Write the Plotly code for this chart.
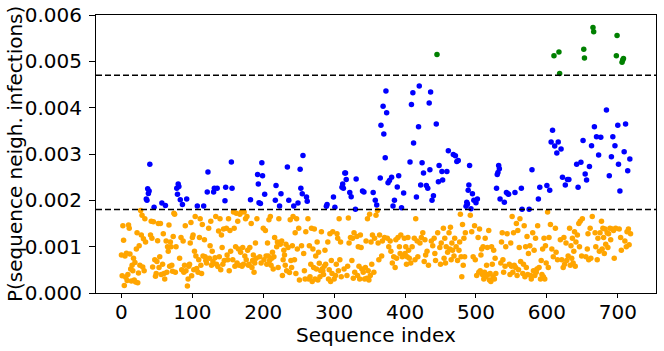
import plotly.graph_objects as go

# Base probabilities (units of 1e-5), one value per sequence index 0..718
base_e5 = [
    82, 37, 145, 114, 16, 80, 34, 86, 27, 40, 147, 140, 84, 52, 26, 60, 48, 75, 28, 66,
    24, 95, 130, 22, 43, 102, 60, 178, 125, 168, 56, 117, 48, 160, 110, 70, 150, 75, 55, 120,
    48, 125, 155, 118, 56, 154, 60, 72, 36, 42, 68, 113, 150, 55, 78, 150, 40, 100, 62, 128,
    42, 30, 110, 112, 45, 100, 90, 147, 58, 110, 100, 60, 47, 122, 172, 170, 45, 100, 55, 160,
    48, 128, 75, 58, 120, 50, 115, 112, 45, 60, 145, 48, 126, 15, 30, 58, 62, 108, 152, 37,
    120, 125, 50, 90, 165, 80, 53, 118, 45, 72, 120, 160, 60, 42, 148, 80, 100, 115, 78, 70,
    65, 75, 168, 140, 75, 102, 155, 60, 90, 68, 112, 160, 76, 165, 62, 140, 57, 134, 78, 160,
    50, 125, 98, 62, 138, 70, 160, 55, 140, 82, 72, 160, 48, 135, 90, 62, 150, 72, 175, 140,
    58, 100, 172, 65, 155, 95, 60, 170, 88, 175, 58, 98, 62, 175, 80, 160, 72, 165, 92, 60,
    62, 98, 75, 150, 55, 70, 82, 45, 65, 108, 75, 160, 72, 135, 60, 78, 118, 65, 108, 70,
    140, 72, 58, 135, 80, 62, 108, 80, 158, 70, 165, 60, 75, 88, 52, 78, 120, 62, 45, 100,
    110, 55, 160, 40, 105, 65, 112, 38, 72, 92, 82, 60, 105, 48, 110, 98, 85, 44, 158, 70,
    55, 102, 165, 28, 72, 130, 42, 160, 95, 58, 140, 28, 75, 120, 102, 178, 60, 85, 48, 30,
    132, 52, 75, 160, 30, 102, 35, 62, 140, 25, 95, 55, 138, 30, 80, 52, 110, 28, 88, 64,
    35, 48, 132, 52, 48, 40, 58, 92, 62, 25, 52, 110, 30, 50, 128, 25, 70, 42, 132, 55,
    30, 155, 38, 62, 128, 118, 48, 160, 72, 110, 35, 102, 45, 132, 52, 40, 145, 118, 38, 58,
    162, 108, 42, 120, 55, 70, 118, 32, 130, 45, 105, 60, 122, 38, 100, 58, 30, 125, 98, 52,
    120, 45, 100, 30, 55, 112, 32, 160, 48, 28, 170, 38, 110, 62, 125, 72, 45, 118, 55, 168,
    60, 178, 108, 72, 125, 50, 155, 80, 112, 70, 98, 120, 60, 160, 85, 118, 75, 100, 55, 112,
    90, 128, 65, 105, 78, 170, 55, 115, 75, 90, 120, 68, 100, 85, 125, 62, 78, 80, 65, 118,
    85, 100, 62, 78, 120, 92, 75, 152, 65, 178, 100, 130, 88, 118, 72, 160, 100, 112, 78, 125,
    88, 108, 75, 120, 95, 130, 155, 68, 115, 82, 125, 90, 158, 60, 140, 95, 78, 112, 85, 102,
    58, 118, 85, 70, 125, 92, 130, 60, 140, 98, 62, 108, 120, 85, 140, 75, 118, 65, 100, 112,
    88, 102, 130, 95, 142, 72, 108, 92, 120, 80, 118, 85, 100, 155, 70, 128, 92, 110, 170, 78,
    35, 148, 60, 118, 78, 130, 90, 135, 102, 58, 125, 142, 168, 62, 132, 108, 78, 138, 145, 72,
    160, 38, 100, 120, 45, 138, 48, 82, 95, 40, 100, 30, 45, 118, 35, 60, 98, 40, 135, 28,
    42, 25, 100, 62, 35, 92, 30, 75, 42, 105, 115, 170, 55, 145, 120, 65, 110, 130, 72, 45,
    140, 58, 100, 50, 128, 75, 145, 62, 40, 108, 58, 165, 45, 130, 60, 92, 55, 150, 38, 135,
    50, 98, 160, 68, 30, 128, 42, 62, 145, 35, 100, 55, 122, 40, 85, 50, 102, 38, 30, 68,
    130, 48, 92, 38, 118, 45, 52, 145, 35, 55, 100, 30, 70, 40, 95, 35, 118, 30, 102, 65,
    100, 175, 55, 120, 88, 148, 70, 95, 128, 78, 105, 60, 140, 88, 110, 72, 95, 130, 82, 115,
    148, 72, 100, 55, 120, 62, 88, 108, 70, 125, 80, 95, 140, 60, 102, 75, 118, 65, 90, 132,
    58, 110, 85, 125, 65, 150, 100, 155, 120, 80, 160, 75, 135, 105, 118, 78, 165, 95, 128, 72,
    100, 140, 75, 120, 165, 88, 150, 75, 130, 100, 145, 72, 118, 165, 90, 130, 80, 155, 95, 140,
    120, 85, 138, 105, 72, 130, 98, 128, 80, 140, 115, 92, 138, 108, 135, 75, 125, 140, 92, 130,
    95, 115, 138, 82, 120, 92, 140, 105, 80, 128, 112, 145, 100, 132, 78, 138, 104, 122, 128,
]

# Sequences with elevated probability (index, value in units of 1e-5)
hi_index = [
    35, 36, 37, 38, 39, 40, 46, 57, 62, 78, 79, 80, 81, 83, 86, 92, 107, 116, 121, 122,
    130, 131, 135, 146, 147, 155, 156, 182, 192, 193, 194, 196, 198, 199, 202, 217, 218, 223, 225, 234,
    236, 243, 249, 252, 253, 255, 256, 261, 262, 289, 290, 299, 301, 311, 312, 313, 315, 316, 317, 322,
    324, 330, 331, 340, 342, 355, 358, 360, 365, 366, 369, 370, 372, 373, 374, 376, 378, 381, 383, 385,
    389, 391, 395, 398, 407, 409, 411, 412, 416, 419, 420, 422, 424, 426, 430, 432, 434, 435, 436, 438,
    440, 444, 445, 447, 448, 452, 453, 459, 461, 468, 471, 473, 475, 486, 487, 488, 489, 490, 491, 493,
    495, 497, 500, 502, 529, 530, 531, 532, 533, 534, 540, 543, 545, 546, 555, 564, 565, 575, 579, 588,
    590, 600, 604, 606, 608, 610, 611, 614, 616, 617, 618, 620, 622, 626, 629, 631, 642, 644, 648, 651,
    652, 653, 654, 656, 660, 663, 665, 666, 667, 670, 673, 676, 684, 688, 691, 693, 696, 698, 699, 700,
    701, 703, 706, 707, 708, 709, 711, 714, 717,
]
hi_value_e5 = [
    203, 200, 225, 215, 220, 278, 185, 194, 189, 226, 213, 235, 230, 201, 191, 203, 188, 188, 218, 261,
    218, 226, 226, 199, 228, 283, 226, 201, 256, 235, 195, 193, 281, 253, 213, 200, 232, 188, 214, 272,
    200, 188, 194, 267, 226, 214, 297, 207, 198, 187, 191, 207, 185, 228, 235, 226, 259, 259, 245, 217,
    208, 181, 246, 220, 218, 217, 200, 190, 248, 362, 403, 343, 292, 436, 389, 238, 243, 250, 188, 200,
    229, 253, 184, 216, 283, 407, 432, 324, 207, 359, 447, 233, 281, 259, 232, 226, 410, 266, 434, 200,
    210, 365, 515, 240, 275, 262, 244, 262, 307, 299, 296, 284, 286, 187, 196, 192, 222, 233, 275, 182,
    214, 200, 195, 203, 226, 256, 260, 275, 268, 203, 196, 217, 214, 213, 217, 226, 181, 181, 266, 203,
    228, 232, 222, 326, 351, 512, 317, 302, 326, 520, 474, 311, 250, 233, 245, 245, 278, 228, 282, 329,
    526, 507, 257, 244, 273, 318, 573, 564, 359, 337, 298, 336, 395, 253, 294, 337, 318, 512, 556, 362,
    278, 220, 498, 503, 506, 305, 365, 264, 289,
]

low_threshold = 0.0018
high_threshold = 0.0047

x_ticks = [0, 100, 200, 300, 400, 500, 600, 700]
y_ticks = [0.000, 0.001, 0.002, 0.003, 0.004, 0.005, 0.006]

assert len(base_e5) == 719, len(base_e5)
assert len(hi_index) == len(hi_value_e5), (len(hi_index), len(hi_value_e5))

prob = [v * 1e-5 for v in base_e5]
for i, v in zip(hi_index, hi_value_e5):
    prob[i] = v * 1e-5
seq_index = list(range(len(prob)))

groups = {"orange": [], "blue": [], "green": []}
for i, p in zip(seq_index, prob):
    if p > high_threshold:
        groups["green"].append((i, p))
    elif p > low_threshold:
        groups["blue"].append((i, p))
    else:
        groups["orange"].append((i, p))

fig = go.Figure()
for col in ["orange", "blue", "green"]:
    pts = groups[col]
    fig.add_trace(go.Scatter(
        x=[a for a, _ in pts], y=[b for _, b in pts], mode="markers",
        marker=dict(color=col, size=5.5, line=dict(width=0)),
        showlegend=False,
    ))

for thr in [high_threshold, low_threshold]:
    fig.add_shape(type="line", xref="paper", x0=0, x1=1, yref="y", y0=thr, y1=thr,
                  line=dict(color="black", width=1.5, dash="6px,3px"))

font = "DejaVu Sans"
fs = 20
W, H = 664, 351
ml, mr, mt, mb = 96, 8, 15, 58
pw, ph = W - ml - mr, H - mt - mb

fig.add_annotation(text="Sequence index", xref="paper", yref="paper",
                   x=0.5, y=(ph - (335 - mt)) / ph, xanchor="center", yanchor="middle",
                   showarrow=False, font=dict(family=font, size=fs, color="black"))
fig.add_annotation(text="P(sequence neigh. infections)", xref="paper", yref="paper",
                   x=(15 - ml) / pw, y=0.5, xanchor="center", yanchor="middle",
                   textangle=-90, showarrow=False,
                   font=dict(family=font, size=fs, color="black"))

fig.update_layout(
    width=W, height=H,
    margin=dict(l=ml, r=mr, t=mt, b=mb),
    plot_bgcolor="white", paper_bgcolor="white",
    font=dict(family=font, size=fs, color="black"),
    xaxis=dict(
        range=[-35.9, 753.9], tickvals=x_ticks, ticktext=[str(t) for t in x_ticks],
        ticks="outside", ticklen=4, tickcolor="black", showline=True, mirror=True,
        linecolor="black", linewidth=1, showgrid=False, zeroline=False,
        tickfont=dict(size=fs), automargin=False, ticklabelstandoff=-3,
    ),
    yaxis=dict(
        range=[0, 0.006], tickvals=y_ticks, ticktext=["%.3f" % t for t in y_ticks],
        ticks="outside", ticklen=6, tickcolor="black", showline=True, mirror=True,
        linecolor="black", linewidth=1, showgrid=False, zeroline=False,
        tickfont=dict(size=fs), automargin=False, ticklabelstandoff=3,
    ),
)

fig.write_html(
    "out.html",
    config={"displayModeBar": False},
    post_script="document.body.style.margin='0';document.body.style.overflow='hidden';",
)
